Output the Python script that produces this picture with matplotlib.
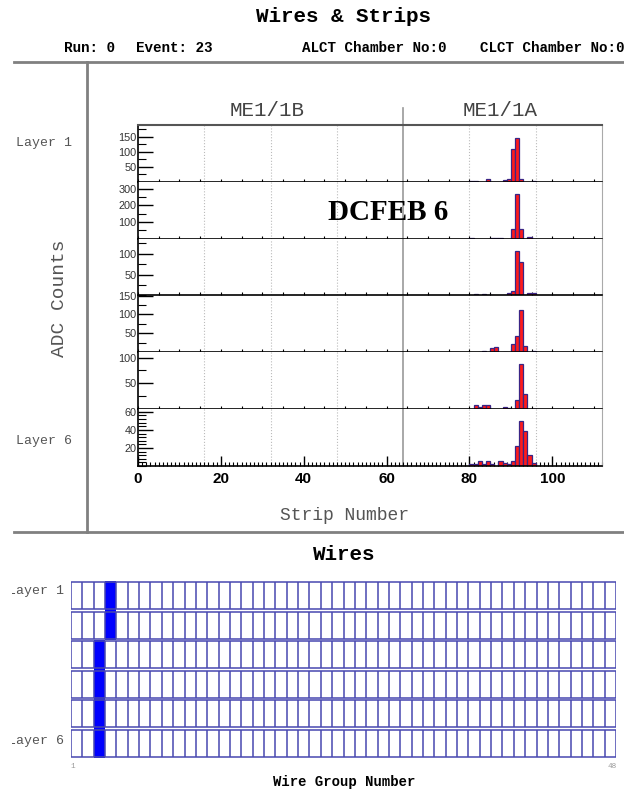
import numpy as np
import matplotlib
matplotlib.use('Agg')
import matplotlib.pyplot as plt
from matplotlib.ticker import MultipleLocator, FixedLocator, NullFormatter
from matplotlib.patches import Rectangle
from matplotlib.transforms import Bbox

#-----strip ADC data, one list pair per layer-----
strips_1 = [80, 81, 84, 88, 89, 90, 91, 92, 95]
adc_1 = [4, 3, 11, 5, 8, 110, 148, 9, 2]
strips_2 = [80, 85, 86, 87, 90, 91, 92, 94]
adc_2 = [4, 1, 4, 4, 60, 270, 60, 12]
strips_3 = [81, 83, 84, 85, 88, 89, 90, 91, 92, 93, 94, 95]
adc_3 = [3, 3, 2, 1, 2, 5, 10, 107, 80, 2, 5, 5]
strips_4 = [82, 83, 85, 86, 88, 90, 91, 92, 93, 95]
adc_4 = [2, 3, 12, 13, 2, 23, 44, 113, 16, 3]
strips_5 = [81, 82, 83, 84, 85, 88, 89, 91, 92, 93, 95]
adc_5 = [9, 4, 9, 9, 1, 4, 2, 18, 87, 30, 1]
strips_6 = [80, 81, 82, 83, 84, 85, 87, 88, 89, 90, 91, 92, 93, 94, 95]
adc_6 = [2, 2, 5, 2, 5, 2, 6, 3, 2, 5, 22, 50, 39, 12, 3]

layer_strips = [strips_1, strips_2, strips_3, strips_4, strips_5, strips_6]
layer_adc = [adc_1, adc_2, adc_3, adc_4, adc_5, adc_6]
y_max = [190, 340, 136, 150, 110, 63]
y_major = [50, 100, 50, 50, 50, 20]
y_minor = [25, 50, 25, 25, 25, 4]

n_strips = 112
me11b_end = 64
grid_strips = [16, 32, 48, 80, 96]
strip_ticks = [0, 20, 40, 60, 80, 100]

#-----wire group data-----
n_wire_groups = 48
wire_hit = [4, 4, 3, 3, 3, 3]

W, H = 624, 789
mono = 'Liberation Mono'
sans = 'Liberation Sans'


def box(x0, y0, x1, y1):
    return [x0 / W, 1 - y1 / H, (x1 - x0) / W, (y1 - y0) / H]


def ftext(x, y, s, **kw):
    return fig.text(x / W, 1 - y / H, s, **kw)


fig = plt.figure(figsize=(W / 100, H / 100), dpi=100)

# frame lines
frame = fig.add_axes([0, 0, 1, 1], zorder=-5)
frame.set_xlim(0, W)
frame.set_ylim(H, 0)
frame.axis('off')
frame.plot([14, 624], [62, 62], color='#808080', lw=2)
frame.plot([87, 87], [62, 532], color='#808080', lw=2)
frame.plot([14, 624], [532, 532], color='#808080', lw=2)

ftext(343, 16, 'Wires & Strips', family=mono, fontweight='bold', fontsize=15,
      ha='center', va='center')
ftext(64, 48, 'Run: 0', family=mono, fontweight='bold', fontsize=10.3, va='center')
ftext(136, 48, 'Event: 23', family=mono, fontweight='bold', fontsize=10.3, va='center')
ftext(302, 48, 'ALCT Chamber No:0', family=mono, fontweight='bold', fontsize=10.3, va='center')
ftext(624, 48, 'CLCT Chamber No:0', family=mono, fontweight='bold', fontsize=10.3,
      va='center', ha='right')

#-----strip panels-----
top = 125
bottom = 466
ph = (bottom - top) / 6
axes = []
for i in range(6):
    ax = fig.add_axes(box(138, top + i * ph, 602, top + (i + 1) * ph))
    axes.append(ax)
    ax.set_xlim(0, n_strips)
    ax.set_ylim(0, y_max[i])
    for g in grid_strips:
        ax.axvline(g, color='#bbbbbb', ls=':', lw=0.8, zorder=0)
    ax.axvline(me11b_end, color='#999999', lw=1.2, zorder=0)
    ax.bar(layer_strips[i], layer_adc[i], width=1, align='edge',
           color='#ff1a1a', edgecolor='#3a2585', linewidth=0.9, zorder=2)
    ax.yaxis.set_major_locator(FixedLocator(list(range(y_major[i], y_max[i] + 1, y_major[i]))))
    ax.yaxis.set_minor_locator(MultipleLocator(y_minor[i]))
    ax.tick_params(axis='y', which='major', direction='in', length=11, width=1,
                   labelsize=7.8, pad=1, labelcolor='#333333')
    ax.tick_params(axis='y', which='minor', direction='in', length=6, width=0.8)
    for lab in ax.get_yticklabels():
        lab.set_family(sans)
    ax.spines['right'].set_color('#aaaaaa')
    ax.spines['left'].set_linewidth(1.2)
    ax.spines['bottom'].set_linewidth(1.2)
    if i == 0:
        ax.spines['top'].set_color('#555555')
        ax.spines['top'].set_linewidth(1.5)
    else:
        ax.spines['top'].set_visible(False)
    if i < 5:
        ax.xaxis.set_major_locator(MultipleLocator(5))
        ax.xaxis.set_major_formatter(NullFormatter())
        ax.tick_params(axis='x', direction='in', length=2, width=0.8)
    else:
        ax.xaxis.set_major_locator(FixedLocator(strip_ticks))
        ax.xaxis.set_minor_locator(MultipleLocator(1))
        ax.tick_params(axis='x', which='major', direction='in', length=7, width=1,
                       labelsize=11, pad=4)
        ax.tick_params(axis='x', which='minor', direction='in', length=3.2, width=0.8)
        for lab in ax.get_xticklabels():
            lab.set_family(sans)
            lab.set_fontweight('bold')

# separator extends up to the ME labels
axes[0].plot([me11b_end, me11b_end], [1, 1.3], color='#999999', lw=1.2,
             transform=axes[0].get_xaxis_transform(), clip_on=False)

ftext(267, 110, 'ME1/1B', family=mono, fontsize=15, color='#444444', ha='center', va='center')
ftext(500, 110, 'ME1/1A', family=mono, fontsize=15, color='#444444', ha='center', va='center')
ftext(388, 213, 'DCFEB 6', family='Liberation Serif', fontweight='bold', fontsize=21,
      ha='center', va='center')
ftext(44, 143, 'Layer 1', family=mono, fontsize=9.5, color='#555555', ha='center', va='center')
ftext(44, 441, 'Layer 6', family=mono, fontsize=9.5, color='#555555', ha='center', va='center')
ftext(60, 298, 'ADC Counts', family=mono, fontsize=14, color='#555555', rotation=90,
      ha='center', va='center')
ftext(345, 515, 'Strip Number', family=mono, fontsize=13, color='#555555',
      ha='center', va='center')

#-----wires panel-----
ftext(344, 555, 'Wires', family=mono, fontweight='bold', fontsize=15, ha='center', va='center')
axw = fig.add_axes(box(71, 581, 616, 758))
axw.set_xlim(0, n_wire_groups)
axw.set_ylim(6, 0)
axw.axis('off')
gap = 0.04
for r in range(6):
    axw.add_patch(Rectangle((wire_hit[r] - 1, r), 1, 1, color='#0000ff', lw=0, zorder=1))
    axw.vlines(np.arange(n_wire_groups + 1), r + gap, r + 1 - gap, color='#4848b0',
               lw=1.1, zorder=2)
    axw.hlines([r + gap, r + 1 - gap], 0, n_wire_groups, color='#4848b0', lw=1.1, zorder=2)

# the wire layer labels are cut off on the left as in the pad
clip = Bbox.from_extents(12, 0, 70, H)
for y, s in [(591, 'Layer 1'), (741, 'Layer 6')]:
    t = ftext(64, y, s, family=mono, fontsize=9.5, color='#555555', ha='right', va='center')
    t.set_clip_box(clip)
    t.set_clip_on(True)
ftext(73, 766, '1', family=mono, fontsize=5.5, color='#999999', ha='center', va='center')
ftext(612, 766, '48', family=mono, fontsize=5.5, color='#999999', ha='center', va='center')
ftext(344, 782, 'Wire Group Number', family=mono, fontweight='bold', fontsize=10,
      ha='center', va='center')

fig.savefig('out.png', dpi=100)
